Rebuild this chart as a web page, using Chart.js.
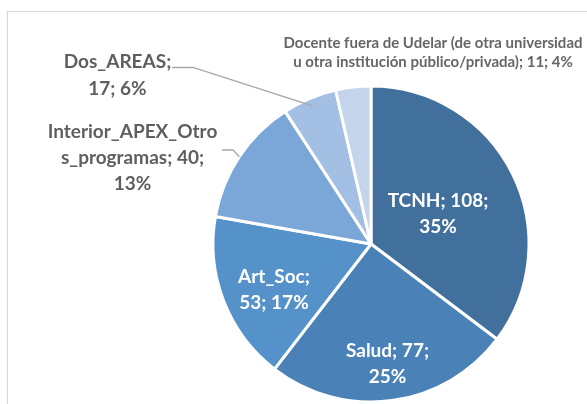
<!DOCTYPE html>
<html>
<head>
<meta charset="utf-8">
<script src="https://cdn.jsdelivr.net/npm/chart.js@4.4.1/dist/chart.umd.min.js"></script>
<style>
html,body{margin:0;padding:0;background:#fff;}
canvas{display:block;}
</style>
</head>
<body>
<canvas id="c" width="587" height="404"></canvas>
<script>
// ---- data ----
const categories = ["TCNH", "Salud", "Art_Soc", "Interior_APEX_Otros_programas", "Dos_AREAS", "Docente fuera de Udelar (de otra universidad u otra institución público/privada)"];
const values = [108, 77, 53, 40, 17, 11];
const colors = ["#42709D", "#4A81B6", "#5592CA", "#7AA7D8", "#A3BFE3", "#C4D5EB"];

// ---- label layout (text placement only) ----
const labelFontBig = "bold 19px Lato";
const labelFontSmall = "bold 15px Lato";
const labelLayout = [
  {x: 438, y: 206.5, lh: 26.3, font: labelFontBig, color: "#ffffff", maxW: 110},
  {x: 387.5, y: 356.5, lh: 26.3, font: labelFontBig, color: "#ffffff", maxW: 110},
  {x: 274, y: 283, lh: 25.5, font: labelFontBig, color: "#ffffff", maxW: 90},
  {x: 132.5, y: 138.3, lh: 26, font: labelFontBig, color: "#5F5F5F", maxW: 170, leader: {x1: 222, y1: 150, x2: 233, y2: 150, r: 1.0}},
  {x: 117.5, y: 68.3, lh: 26.7, font: labelFontBig, color: "#5F5F5F", maxW: 120, leader: {x1: 172, y1: 67.5, x2: 193, y2: 67.5, r: 0.95}},
  {x: 433, y: 48.3, lh: 18.4, font: labelFontSmall, color: "#666666", maxW: 303}
];

const total = values.reduce((a, b) => a + b, 0);

function wrapText(ctx, text, maxW) {
  const words = text.split(" ");
  const lines = [];
  let cur = "";
  for (const w of words) {
    const test = cur ? cur + " " + w : w;
    if (ctx.measureText(test).width <= maxW) { cur = test; continue; }
    if (cur) { lines.push(cur); cur = ""; }
    if (ctx.measureText(w).width <= maxW) { cur = w; continue; }
    // break long word by characters
    let piece = "";
    for (const ch of w) {
      if (ctx.measureText(piece + ch).width > maxW && piece) { lines.push(piece); piece = ch; }
      else piece += ch;
    }
    cur = piece;
  }
  if (cur) lines.push(cur);
  return lines;
}

const framePlugin = {
  id: "frame",
  beforeDraw(chart) {
    const ctx = chart.ctx;
    ctx.save();
    ctx.fillStyle = "#ffffff";
    ctx.fillRect(0, 0, chart.width, chart.height);
    ctx.strokeStyle = "#D9D9D9";
    ctx.lineWidth = 1.2;
    ctx.beginPath();
    ctx.moveTo(7.5, chart.height + 5);
    ctx.lineTo(7.5, 11.5);
    ctx.lineTo(chart.width + 5, 11.5);
    ctx.stroke();
    ctx.restore();
  }
};

const labelPlugin = {
  id: "pieLabels",
  afterDatasetsDraw(chart) {
    const ctx = chart.ctx;
    const meta = chart.getDatasetMeta(0);
    ctx.save();
    meta.data.forEach((arc, i) => {
      const L = labelLayout[i];
      const pct = Math.round(values[i] / total * 100);
      const text = categories[i] + "; " + values[i] + "; " + pct + "%";
      ctx.font = L.font;
      const lines = wrapText(ctx, text, L.maxW);
      if (L.leader) {
        const p = arc.getProps(["x", "y", "startAngle", "endAngle", "outerRadius"], true);
        const mid = (p.startAngle + p.endAngle) / 2;
        const ex = p.x + Math.cos(mid) * p.outerRadius * L.leader.r;
        const ey = p.y + Math.sin(mid) * p.outerRadius * L.leader.r;
        ctx.strokeStyle = "#A6A6A6";
        ctx.lineWidth = 1.3;
        ctx.beginPath();
        ctx.moveTo(L.leader.x1, L.leader.y1);
        ctx.lineTo(L.leader.x2, L.leader.y2);
        ctx.lineTo(ex, ey);
        ctx.stroke();
      }
      ctx.fillStyle = L.color;
      ctx.textAlign = "center";
      ctx.textBaseline = "alphabetic";
      lines.forEach((ln, k) => ctx.fillText(ln, L.x, L.y + k * L.lh));
    });
    ctx.restore();
  }
};

new Chart(document.getElementById("c"), {
  type: "pie",
  data: {
    labels: categories,
    datasets: [{
      data: values,
      backgroundColor: colors,
      borderColor: "#ffffff",
      borderWidth: 3
    }]
  },
  options: {
    responsive: false,
    animation: false,
    events: [],
    radius: 158,
    layout: {padding: {left: 214, right: 59, top: 87, bottom: 3}},
    plugins: {legend: {display: false}, tooltip: {enabled: false}, title: {display: false}}
  },
  plugins: [framePlugin, labelPlugin]
});
</script>
</body>
</html>
